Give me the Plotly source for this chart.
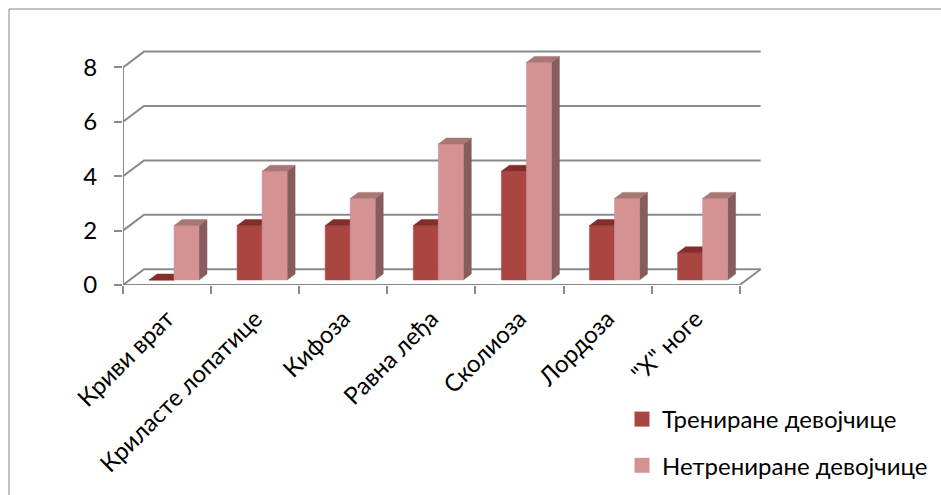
import plotly.graph_objects as go

# Data
categories = ["Криви врат", "Криласте лопатице", "Кифоза", "Равна леђа",
              "Сколиоза", "Лордоза", "\"Х\" ноге"]
trained = [0, 2, 2, 2, 4, 2, 1]
untrained = [2, 4, 3, 5, 8, 3, 3]
series_names = ["Трениране девојчице", "Нетрениране девојчице"]
y_ticks = [0, 2, 4, 6, 8]

# Pixel geometry of the plot area
W, H = 941, 495
ML, MT, MB = 123, 40, 210
UX = 88.1          # px per category
UY = 27.2          # px per value unit
MR = 161
plot_w = W - ML - MR
plot_h = H - MT - MB
x_max = plot_w / UX
y_max = plot_h / UY

# Pseudo-3D depth of the walls (in data units)
DX = 21 / UX
DY = 15.8 / UY
# Bar geometry (data units)
BAR_OFF = 26 / UX
BAR_W = 25 / UX
BAR_BASE = 5 / UY
BAR_DX = 8 / UX
BAR_DY = 6 / UY

GRID = "#8a8a8a"
FONT = "Lato"

colors = {
    0: dict(front="#AA4642", top="#822E2C", side="#6E2826"),
    1: dict(front="#D49292", top="#A87675", side="#865D5C"),
}


def px_to_paper_x(px):
    return (px - ML) / plot_w


def px_to_paper_y(py):
    return (MT + plot_h - py) / plot_h


fig = go.Figure()

n = len(categories)
ymax_tick = max(y_ticks)

# Walls: left vertical edge, diagonals and back gridlines
wx, wy = [0, 0, None], [0, ymax_tick, None]
for v in y_ticks:
    wx += [0, DX, n + DX, None]
    wy += [v, v + DY, v + DY, None]
# floor front edge and right diagonal
wx += [0, n, n + DX]
wy += [0, 0, DY]
fig.add_trace(go.Scatter(x=wx, y=wy, mode="lines", line=dict(color=GRID, width=2),
                         hoverinfo="skip", showlegend=False, cliponaxis=False))


def faces(values, k):
    fx, fy, tx, ty, sx, sy = [], [], [], [], [], []
    for i, v in enumerate(values):
        x0 = i + BAR_OFF + k * BAR_W
        x1 = x0 + BAR_W
        b = BAR_BASE
        t = BAR_BASE + v
        fx += [x0, x1, x1, x0, x0, None]
        fy += [b, b, t, t, b, None]
        tx += [x0, x1, x1 + BAR_DX, x0 + BAR_DX, x0, None]
        ty += [t, t, t + BAR_DY, t + BAR_DY, t, None]
        sx += [x1, x1 + BAR_DX, x1 + BAR_DX, x1, x1, None]
        sy += [b, b + BAR_DY, t + BAR_DY, t, b, None]
    return (fx, fy), (tx, ty), (sx, sy)


for k, vals in enumerate([trained, untrained]):
    front, top, side = faces(vals, k)
    c = colors[k]
    for (xs, ys), col in [(side, c["side"]), (front, c["front"]), (top, c["top"])]:
        fig.add_trace(go.Scatter(x=xs, y=ys, mode="lines", fill="toself",
                                 fillcolor=col, line=dict(color=col, width=0.5),
                                 hoverinfo="skip", showlegend=False, cliponaxis=False))

# Legend entries
for k, name in enumerate(series_names):
    fig.add_trace(go.Scatter(x=[None], y=[None], mode="markers", name=name,
                             legendgroup=str(k),
                             marker=dict(symbol="square", size=15,
                                         color=colors[k]["front"])))

# invisible trace on the second x axis so the category labels render
fig.add_trace(go.Scatter(x=[None], y=[None], xaxis="x2", showlegend=False,
                         hoverinfo="skip"))

fig.update_layout(
    width=W, height=H,
    margin=dict(l=ML, r=MR, t=MT, b=MB, autoexpand=False),
    paper_bgcolor="white", plot_bgcolor="white",
    font=dict(family=FONT, color="black", size=24),
    xaxis=dict(range=[0, x_max], showgrid=False, zeroline=False, showline=False,
               automargin=False,
               tickmode="array", tickvals=list(range(n + 1)), ticktext=[""] * (n + 1),
               ticks="outside", ticklen=8, tickwidth=2, tickcolor=GRID),
    xaxis2=dict(range=[0, x_max], overlaying="x", anchor="y", side="bottom",
                showgrid=False, zeroline=False, showline=False, automargin=False,
                tickmode="array", tickvals=[i + 0.5 for i in range(n)],
                ticktext=categories, tickangle=-45, ticks="",
                ticklabelstandoff=14,
                tickfont=dict(family=FONT, size=24, color="black")),
    yaxis=dict(range=[0, y_max], showgrid=False, zeroline=False, showline=False,
               automargin=False,
               tickmode="array", tickvals=y_ticks,
               ticks="outside", ticklen=8, tickwidth=2, tickcolor=GRID,
               ticklabelstandoff=12,
               tickfont=dict(family=FONT, size=24, color="black")),
    showlegend=True,
    legend=dict(x=px_to_paper_x(622), y=px_to_paper_y(397),
                xanchor="left", yanchor="top", tracegroupgap=12,
                font=dict(family=FONT, size=24, color="black"),
                bgcolor="rgba(0,0,0,0)"),
    shapes=[dict(type="rect", xref="paper", yref="paper",
                 x0=px_to_paper_x(9), x1=px_to_paper_x(960),
                 y0=px_to_paper_y(510), y1=px_to_paper_y(9),
                 line=dict(color="#868686", width=1), layer="below")],
)

fig.write_html("out.html")
